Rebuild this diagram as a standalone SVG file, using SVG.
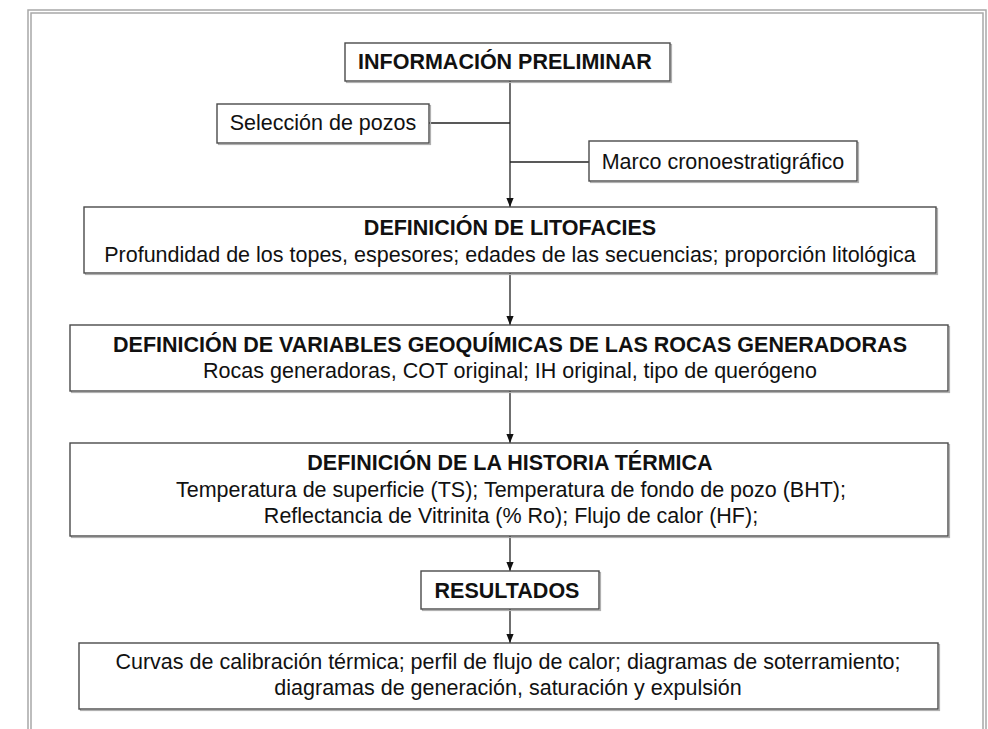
<svg xmlns="http://www.w3.org/2000/svg" width="988" height="729" viewBox="0 0 988 729">
<style>
  .box { fill: #ffffff; stroke: #4a4a4a; stroke-width: 1.4; }
  .sh { fill: none; stroke: #b0b0b0; stroke-width: 1.2; }
  .t { font-family: "Liberation Sans", Arial, sans-serif; font-size: 21.5px; fill: #111; text-anchor: middle; }
  .b { font-weight: bold; }
  .ln { stroke: #222; stroke-width: 1.3; fill: none; }
  .frame { fill: none; stroke: #a8a8a8; stroke-width: 1.5; }
</style>
<defs>
  <marker id="arr" viewBox="0 0 10 10" refX="10" refY="5" markerWidth="10" markerHeight="9" markerUnits="userSpaceOnUse" orient="auto">
    <path d="M0,1 L10,5 L0,9 Z" fill="#111"/>
  </marker>
</defs>
<rect width="988" height="729" fill="#ffffff"/>
<g id="frame">
  <path class="frame" d="M28,729 V10 H986 V729"/>
  <path class="frame" d="M31,729 V13 H983 V729" stroke="#cccccc"/>
</g>
<g id="connectors">
  <line class="ln" x1="510" y1="81" x2="510" y2="207" marker-end="url(#arr)"/>
  <line class="ln" x1="429" y1="123" x2="510" y2="123"/>
  <line class="ln" x1="510" y1="162" x2="589" y2="162"/>
  <line class="ln" x1="510" y1="273" x2="510" y2="325" marker-end="url(#arr)"/>
  <line class="ln" x1="510" y1="391" x2="510" y2="443" marker-end="url(#arr)"/>
  <line class="ln" x1="510" y1="536" x2="510" y2="571" marker-end="url(#arr)"/>
  <line class="ln" x1="510" y1="609" x2="510" y2="643" marker-end="url(#arr)"/>
</g>
<g id="info">
  <rect class="sh" x="346.5" y="44.5" width="325" height="38"/>
  <rect class="box" x="345" y="43" width="325" height="38"/>
  <text class="t b" x="505" y="69">INFORMACIÓN PRELIMINAR</text>
</g>
<g id="seleccion">
  <rect class="sh" x="218.5" y="105.5" width="212" height="39"/>
  <rect class="box" x="217" y="104" width="212" height="39"/>
  <text class="t" x="323" y="130">Selección de pozos</text>
</g>
<g id="marco">
  <rect class="sh" x="590.5" y="142.5" width="268" height="40"/>
  <rect class="box" x="589" y="141" width="268" height="40"/>
  <text class="t" x="723" y="169">Marco cronoestratigráfico</text>
</g>
<g id="litofacies">
  <rect class="sh" x="85.5" y="208.5" width="852" height="66"/>
  <rect class="box" x="84" y="207" width="852" height="66"/>
  <text class="t b" x="510" y="235">DEFINICIÓN DE LITOFACIES</text>
  <text class="t" x="510" y="262">Profundidad de los topes, espesores; edades de las secuencias; proporción litológica</text>
</g>
<g id="geoquimicas">
  <rect class="sh" x="71.5" y="326.5" width="878" height="66"/>
  <rect class="box" x="70" y="325" width="878" height="66"/>
  <text class="t b" x="510" y="352">DEFINICIÓN DE VARIABLES GEOQUÍMICAS DE LAS ROCAS GENERADORAS</text>
  <text class="t" x="510" y="378">Rocas generadoras, COT original; IH original, tipo de querógeno</text>
</g>
<g id="termica">
  <rect class="sh" x="71.5" y="444.5" width="878" height="93"/>
  <rect class="box" x="70" y="443" width="878" height="93"/>
  <text class="t b" x="510" y="470">DEFINICIÓN DE LA HISTORIA TÉRMICA</text>
  <text class="t" x="511" y="497">Temperatura de superficie (TS); Temperatura de fondo de pozo (BHT);</text>
  <text class="t" x="511" y="523">Reflectancia de Vitrinita (% Ro); Flujo de calor (HF);</text>
</g>
<g id="resultados">
  <rect class="sh" x="422.5" y="572.5" width="178" height="38"/>
  <rect class="box" x="421" y="571" width="178" height="38"/>
  <text class="t b" x="507" y="598">RESULTADOS</text>
</g>
<g id="salidas">
  <rect class="sh" x="80.5" y="644.5" width="859" height="66"/>
  <rect class="box" x="79" y="643" width="859" height="66"/>
  <text class="t" x="508" y="669">Curvas de calibración térmica; perfil de flujo de calor; diagramas de soterramiento;</text>
  <text class="t" x="508" y="695">diagramas de generación, saturación y expulsión</text>
</g>
</svg>
